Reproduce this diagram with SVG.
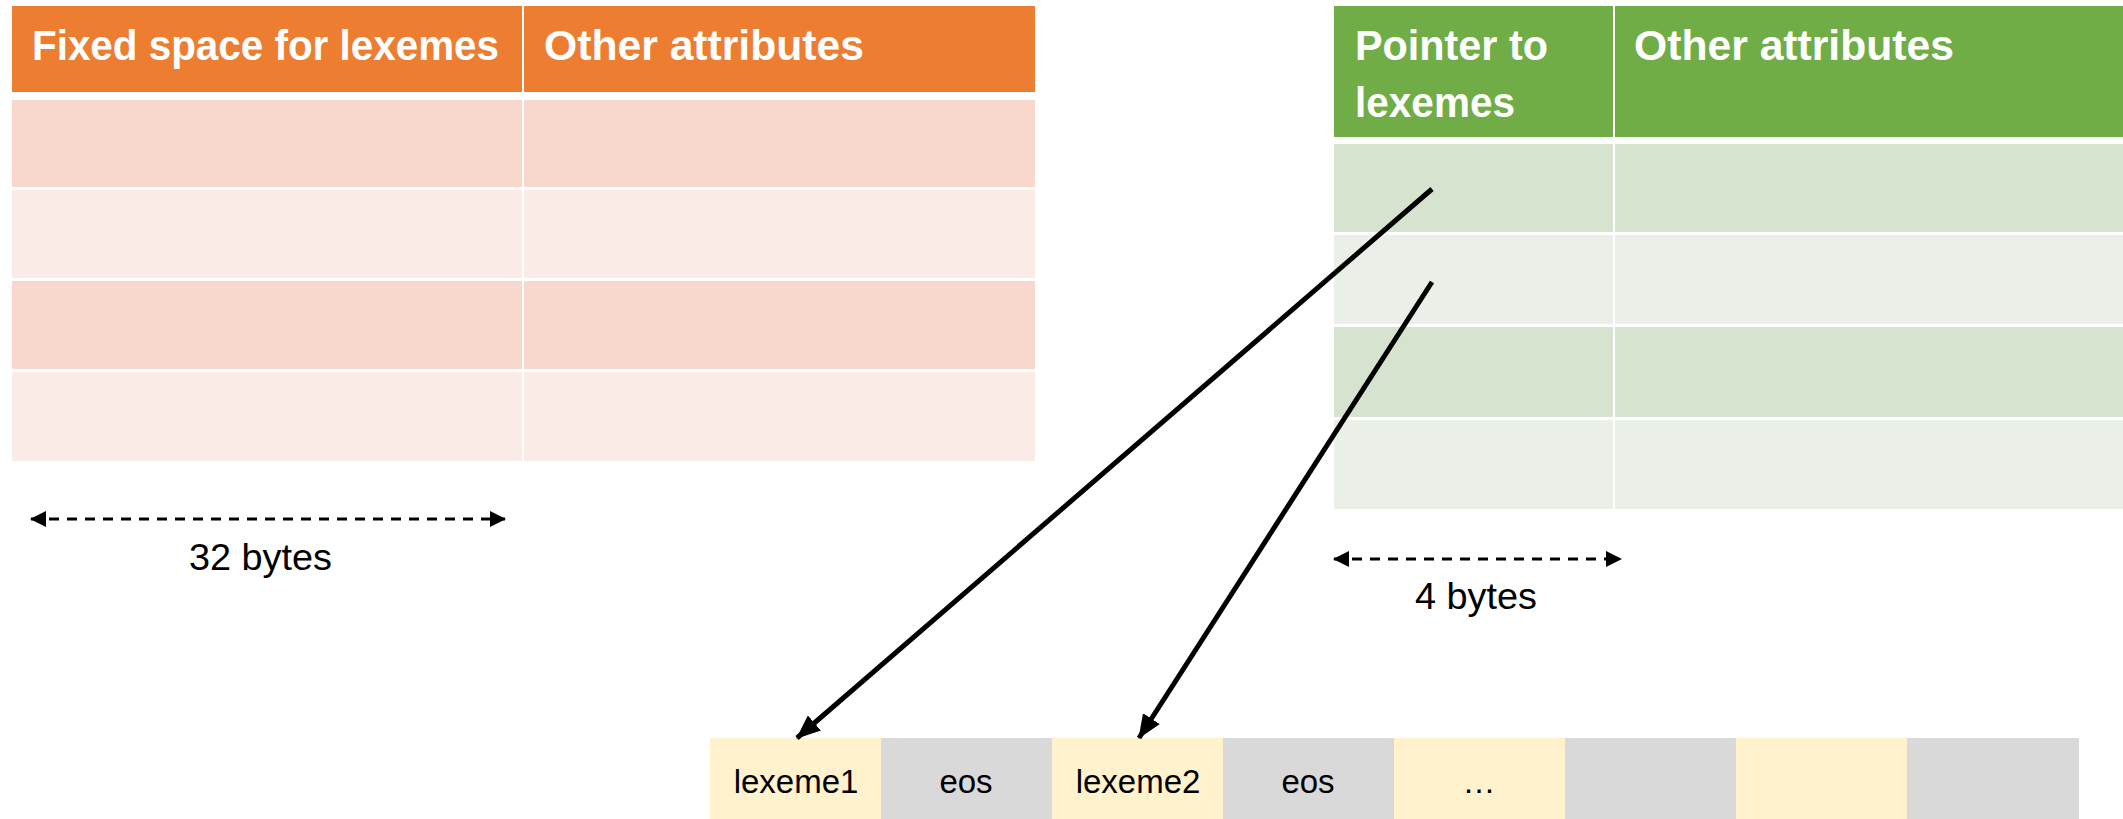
<svg xmlns="http://www.w3.org/2000/svg" width="2123" height="819" viewBox="0 0 2123 819">
  <style>
    .hdr-o { fill: #ED7D31; }
    .row-o1 { fill: #F8D7CC; }
    .row-o2 { fill: #FBEBE7; }
    .hdr-g { fill: #70AD47; }
    .row-g1 { fill: #D6E3CF; }
    .row-g2 { fill: #EAF0E8; }
    .cell-y { fill: #FFF2CC; }
    .cell-s { fill: #D9D9D9; }
    .htxt { font-family: "Liberation Sans", Arial, sans-serif; font-weight: bold; font-size: 43px; fill: #FFFFFF; }
    .btxt { font-family: "Liberation Sans", Arial, sans-serif; font-size: 33px; fill: #000000; text-anchor: middle; }
    .dtxt { font-family: "Liberation Sans", Arial, sans-serif; font-size: 37px; fill: #000000; }
    .dim { stroke: #000; stroke-width: 3; stroke-dasharray: 10 8; fill: none; }
    .ptr { stroke: #000; stroke-width: 5; fill: none; }
  </style>
  <defs>
    <marker id="dimEnd" markerUnits="userSpaceOnUse" markerWidth="16" markerHeight="16" refX="15" refY="8" orient="auto-start-reverse" viewBox="0 0 16 16">
      <path d="M0,0 L16,8 L0,16 Z" fill="#000"/>
    </marker>
    <marker id="ptrEnd" markerUnits="userSpaceOnUse" markerWidth="24" markerHeight="20" refX="23" refY="10" orient="auto" viewBox="0 0 24 20">
      <path d="M0,0 L24,10 L0,20 Z" fill="#000"/>
    </marker>
  </defs>

  <!-- Table with fixed-width lexeme field -->
  <g id="fixed-table">
    <rect class="hdr-o" x="12" y="6" width="510" height="86"/>
    <rect class="hdr-o" x="524" y="6" width="511" height="86"/>
    <text class="htxt" x="32" y="60" textLength="467" lengthAdjust="spacingAndGlyphs">Fixed space for lexemes</text>
    <text class="htxt" x="544" y="60" textLength="320" lengthAdjust="spacingAndGlyphs">Other attributes</text>
    <rect class="row-o1" x="12" y="100" width="510" height="87"/>
    <rect class="row-o1" x="524" y="100" width="511" height="87"/>
    <rect class="row-o2" x="12" y="190" width="510" height="88"/>
    <rect class="row-o2" x="524" y="190" width="511" height="88"/>
    <rect class="row-o1" x="12" y="281" width="510" height="88"/>
    <rect class="row-o1" x="524" y="281" width="511" height="88"/>
    <rect class="row-o2" x="12" y="372" width="510" height="89"/>
    <rect class="row-o2" x="524" y="372" width="511" height="89"/>
  </g>

  <!-- Table with pointer to lexeme storage -->
  <g id="pointer-table">
    <rect class="hdr-g" x="1334" y="6" width="279" height="131"/>
    <rect class="hdr-g" x="1615" y="6" width="508" height="131"/>
    <text class="htxt" x="1355" y="60" textLength="193" lengthAdjust="spacingAndGlyphs">Pointer to</text>
    <text class="htxt" x="1355" y="117" textLength="160" lengthAdjust="spacingAndGlyphs">lexemes</text>
    <text class="htxt" x="1634" y="60" textLength="320" lengthAdjust="spacingAndGlyphs">Other attributes</text>
    <rect class="row-g1" x="1334" y="144" width="279" height="88"/>
    <rect class="row-g1" x="1615" y="144" width="508" height="88"/>
    <rect class="row-g2" x="1334" y="235" width="279" height="89"/>
    <rect class="row-g2" x="1615" y="235" width="508" height="89"/>
    <rect class="row-g1" x="1334" y="327" width="279" height="90"/>
    <rect class="row-g1" x="1615" y="327" width="508" height="90"/>
    <rect class="row-g2" x="1334" y="420" width="279" height="89"/>
    <rect class="row-g2" x="1615" y="420" width="508" height="89"/>
  </g>

  <!-- Width annotations -->
  <g id="dim-32">
    <line class="dim" x1="31" y1="519" x2="505" y2="519" marker-start="url(#dimEnd)" marker-end="url(#dimEnd)"/>
    <text class="dtxt" x="189" y="570" textLength="143" lengthAdjust="spacingAndGlyphs">32 bytes</text>
  </g>
  <g id="dim-4">
    <line class="dim" x1="1334" y1="559" x2="1621" y2="559" marker-start="url(#dimEnd)" marker-end="url(#dimEnd)"/>
    <text class="dtxt" x="1415" y="609" textLength="122" lengthAdjust="spacingAndGlyphs">4 bytes</text>
  </g>

  <!-- Lexeme storage buffer -->
  <g id="lexeme-buffer">
    <rect class="cell-y" x="710" y="738" width="171" height="81"/>
    <rect class="cell-s" x="881" y="738" width="171" height="81"/>
    <rect class="cell-y" x="1052" y="738" width="171" height="81"/>
    <rect class="cell-s" x="1223" y="738" width="171" height="81"/>
    <rect class="cell-y" x="1394" y="738" width="171" height="81"/>
    <rect class="cell-s" x="1565" y="738" width="171" height="81"/>
    <rect class="cell-y" x="1736" y="738" width="171" height="81"/>
    <rect class="cell-s" x="1907" y="738" width="172" height="81"/>
    <text class="btxt" x="796" y="793">lexeme1</text>
    <text class="btxt" x="966" y="793">eos</text>
    <text class="btxt" x="1138" y="793">lexeme2</text>
    <text class="btxt" x="1308" y="793">eos</text>
    <text class="btxt" x="1479" y="793">…</text>
  </g>

  <!-- Pointers into the buffer -->
  <g id="connectors">
    <line class="ptr" x1="1432" y1="189" x2="797" y2="738" marker-end="url(#ptrEnd)"/>
    <line class="ptr" x1="1432" y1="282" x2="1139" y2="738" marker-end="url(#ptrEnd)"/>
  </g>
</svg>
